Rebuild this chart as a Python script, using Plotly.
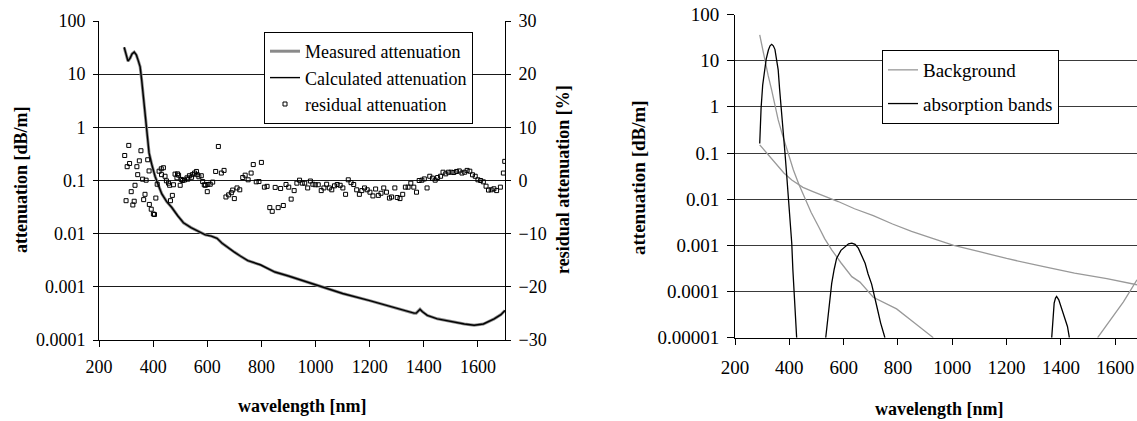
import plotly.graph_objects as go

# ---------------- Left chart data ----------------
wl_att = [293, 300, 307, 315, 322, 330, 338, 345, 352, 358, 364, 369, 374, 379, 385, 395, 407, 420,
          432, 450, 469, 490, 512, 540, 565, 593, 615, 636, 655, 673, 700, 722, 750, 796, 850, 900,
          944, 1018, 1100, 1200, 1280, 1330, 1364, 1372, 1379, 1386, 1395, 1413, 1450, 1500, 1550,
          1586, 1620, 1660, 1685, 1700]
att_measured = [32, 22, 17.6, 20, 24, 26, 23, 18, 13.7, 7.5, 3.7, 1.6, 1.0, 0.5, 0.33, 0.2, 0.12, 0.08,
                0.056, 0.04, 0.031, 0.022, 0.016, 0.013, 0.0112, 0.0095, 0.009, 0.0082, 0.0066, 0.0056,
                0.0045, 0.0038, 0.0031, 0.0026, 0.0019, 0.0016, 0.00135, 0.001, 0.00075, 0.00055,
                0.00042, 0.00036, 0.00032, 0.00032, 0.00035, 0.00038, 0.00034, 0.00029, 0.00025,
                0.00022, 0.0002, 0.00019, 0.0002, 0.00025, 0.0003, 0.00036]
att_calculated = [32, 22, 17.6, 20, 24, 26, 23, 18, 13.7, 7.5, 3.7, 1.6, 1.0, 0.5, 0.33, 0.2, 0.12, 0.08,
                  0.056, 0.04, 0.031, 0.022, 0.016, 0.013, 0.0112, 0.0095, 0.009, 0.0082, 0.0066, 0.0056,
                  0.0045, 0.0038, 0.0031, 0.0026, 0.0019, 0.0016, 0.00135, 0.001, 0.00075, 0.00055,
                  0.00042, 0.00036, 0.00032, 0.00032, 0.00035, 0.00038, 0.00034, 0.00029, 0.00025,
                  0.00022, 0.0002, 0.00019, 0.0002, 0.00025, 0.0003, 0.00036]

wl_res = [295, 300, 304, 310, 313, 319, 325, 330, 333, 340, 343, 349, 355, 361, 365, 370, 374, 380, 385,
          386, 393, 401, 405, 410, 415, 422, 430, 431, 438, 444, 449, 457, 461, 464, 471, 475, 481, 488,
          490, 494, 500, 504, 509, 516, 525, 528, 534, 542, 545, 553, 560, 563, 569, 578, 583, 589, 593,
          600, 602, 611, 620, 631, 641, 652, 662, 669, 679, 689, 694, 700, 710, 720, 731, 740, 751, 762,
          770, 781, 791, 800, 811, 821, 831, 840, 851, 862, 871, 881, 891, 901, 910, 921, 931, 941, 951,
          960, 971, 981, 990, 999, 1010, 1021, 1031, 1041, 1051, 1060, 1070, 1080, 1091, 1101, 1111,
          1121, 1131, 1141, 1152, 1162, 1171, 1181, 1191, 1201, 1212, 1222, 1232, 1242, 1252, 1262,
          1273, 1281, 1293, 1302, 1312, 1322, 1332, 1342, 1352, 1363, 1373, 1383, 1393, 1402, 1412,
          1422, 1432, 1442, 1451, 1462, 1471, 1481, 1491, 1501, 1511, 1521, 1531, 1541, 1551, 1560,
          1570, 1580, 1590, 1600, 1610, 1620, 1630, 1639, 1649, 1659, 1669, 1683, 1694, 1699]
res_pct = [4.7, -3.8, 2.6, 6.6, 3.2, -2.1, -4.6, -3.9, -0.9, 2.6, 1.1, 3.7, 5.6, 0.25, -3.6, -2.6, 0.06,
           3.9, 1.8, -4.5, -5.4, -6.3, -6.4, -3.3, -0.7, 1.75, 2.2, 1.1, 2.4, 0.8, -0.06, -0.5, -0.9,
           -3.8, -2.8, -0.8, 1.2, 0.5, 1.25, 1.0, -0.9, 0.2, 0.0, 0.1, 0.5, 0.25, 0.9, 0.6, 1.1, 1.4,
           1.7, 1.1, 0.7, 0.9, -0.2, -0.8, -0.9, -2.1, -0.75, -0.7, -0.3, 1.7, 6.4, 1.4, 1.9, -3.1,
           -2.7, -2.3, -1.8, -3.4, -1.4, -1.75, 0.56, 1.0, 0.13, 1.4, 3.0, -0.25, -0.2, 3.4, -1.25,
           -1.1, -5.1, -5.8, -1.3, -5.1, -1.5, -4.7, -0.75, -1.25, -3.5, -1.9, -0.5, 0.06, -0.5, -0.5,
           -1.4, -0.1, -0.7, -0.8, -0.8, -1.9, -1.4, -0.7, -1.4, -1.75, -1.0, -0.75, -0.9, -1.4, -2.6,
           0.13, -0.4, -0.75, -1.75, -2.6, -1.9, -1.4, -1.75, -2.2, -2.9, -1.6, -2.8, -2.4, -1.4, -2.2,
           -3.3, -3.1, -1.4, -3.2, -3.4, -2.6, -1.25, -1.25, -0.5, -1.25, -2.2, 0.0, 0.06, 0.3, -1.4,
           0.8, 0.44, 0.06, 0.56, 0.8, 1.56, 1.25, 1.56, 1.56, 1.5, 1.7, 1.8, 1.4, 1.56, 1.9, 1.75,
           1.07, 0.8, 0.13, 0.0, -0.25, -1.07, -1.8, -1.75, -1.56, -1.9, -1.25, 1.4, 3.6]

# ---------------- Right chart data ----------------
wl_bg = [291, 300, 310, 322, 335, 347, 359, 372, 384, 400, 415, 435, 458, 480, 507, 530, 556, 590, 630,
         660, 709, 750, 795, 860, 930, None,
         291, 320, 347, 380, 409, 450, 487, 540, 580, 640, 709, 780, 850, 930, 1005, 1100, 1200, 1341,
         1450, 1569, 1680, None,
         1535, 1580, 1630, 1680]
bg_att = [36, 19, 10.4, 4.8, 2.3, 1.05, 0.52, 0.28, 0.16, 0.078, 0.043, 0.021, 0.01, 0.0052, 0.0026,
          0.0014, 0.0008, 0.00042, 0.00021, 0.00016, 0.000075, 0.000058, 0.000042, 0.000021, 0.00001, None,
          0.15, 0.095, 0.06, 0.037, 0.026, 0.018, 0.0146, 0.011, 0.0089, 0.0062, 0.0044, 0.0029, 0.002,
          0.0014, 0.001, 0.00073, 0.00052, 0.00034, 0.00025, 0.00019, 0.00014, None,
          0.00001, 0.000024, 0.00006, 0.00018]

wl_abs = [291, 293, 296, 302, 308, 315, 323, 329, 335, 341, 347, 353, 359, 364, 369, 376, 384, 390, 396,
          403, 409, 413, 417, 422, 427, None,
          534, 544, 556, 565, 574, 590, 605, 618, 630, 642, 654, 666, 679, 690, 703, 722, 736, 752, None,
          1366, 1370, 1375, 1380, 1384, 1392, 1403, 1415, 1424, 1431]
abs_att = [0.16, 0.4, 0.93, 3, 6.3, 11, 17, 21, 22.6, 21, 17.6, 11, 6.3, 2.5, 1.0, 0.35, 0.1, 0.035,
           0.0115, 0.0035, 0.0011, 0.0003, 0.000093, 0.00003, 0.00001, None,
           0.00001, 0.00004, 0.00015, 0.0003, 0.00052, 0.00078, 0.00093, 0.00108, 0.00112, 0.00105,
           0.00087, 0.00062, 0.00041, 0.00024, 0.000145, 0.000048, 0.000021, 0.00001, None,
           0.00001, 0.000029, 0.000056, 0.000072, 0.000078, 0.000066, 0.00004, 0.000024, 0.0000175,
           0.00001]

# ---------------- Tick labels ----------------
x_ticks = [200, 400, 600, 800, 1000, 1200, 1400, 1600]
left_log_vals = [0.0001, 0.001, 0.01, 0.1, 1, 10, 100]
left_log_text = ["0.0001", "0.001", "0.01", "0.1", "1", "10", "100"]
res_ticks = [-30, -20, -10, 0, 10, 20, 30]
right_log_vals = [0.00001, 0.0001, 0.001, 0.01, 0.1, 1, 10, 100]
right_log_text = ["0.00001", "0.0001", "0.001", "0.01", "0.1", "1", "10", "100"]

FONT = "Liberation Serif"
W, H = 1137, 421


def f(size):
    return dict(family=FONT, size=size, color="#000000")


fig = go.Figure()
fig.add_trace(go.Scatter(x=wl_att, y=att_measured, mode="lines", name="Measured attenuation",
                         line=dict(color="#8a8a8a", width=3), xaxis="x", yaxis="y", legend="legend"))
fig.add_trace(go.Scatter(x=wl_att, y=att_calculated, mode="lines", name="Calculated attenuation",
                         line=dict(color="#000000", width=1.4), xaxis="x", yaxis="y", legend="legend"))
fig.add_trace(go.Scatter(x=wl_res, y=res_pct, mode="markers", name="residual attenuation",
                         marker=dict(symbol="square-open", size=4, color="#000000", line=dict(width=1)),
                         xaxis="x", yaxis="y3", legend="legend"))
fig.add_trace(go.Scatter(x=wl_bg, y=bg_att, mode="lines", name="Background", connectgaps=False,
                         line=dict(color="#999999", width=1.3), xaxis="x2", yaxis="y2",
                         legend="legend2", legendgroup="bg"))
fig.add_trace(go.Scatter(x=wl_abs, y=abs_att, mode="lines", name="absorption bands", connectgaps=False,
                         line=dict(color="#000000", width=1.3), xaxis="x2", yaxis="y2",
                         legend="legend2", legendgroup="abs"))

axis_common = dict(showline=True, linecolor="#000000", linewidth=1, ticks="outside", tickcolor="#000000",
                   tickwidth=1, zeroline=False, color="#000000", automargin=False)

fig.update_layout(
    template="none",
    width=W, height=H, margin=dict(l=0, r=0, t=0, b=0, autoexpand=False),
    paper_bgcolor="white", plot_bgcolor="white",
    font=f(18),
    xaxis=dict(domain=[99 / W, 505 / W], range=[200, 1700], tickvals=x_ticks, ticklen=6,
               showgrid=False, anchor="y", ticklabelstandoff=4, tickfont=f(18), **axis_common),
    yaxis=dict(domain=[(H - 340) / H, (H - 21) / H], type="log", range=[-4, 2],
               tickvals=left_log_vals, ticktext=left_log_text, ticklen=5, anchor="x",
               showgrid=True, gridcolor="#1a1a1a", gridwidth=1, ticklabelstandoff=4,
               tickfont=f(18), **axis_common),
    yaxis3=dict(overlaying="y", side="right", anchor="x", range=[-30, 30], tickvals=res_ticks,
                showgrid=False, ticklen=5, ticklabelstandoff=4, tickfont=f(18), **axis_common),
    xaxis2=dict(domain=[735 / W, 1.0], range=[200, 1680], tickvals=x_ticks, ticklen=6,
                showgrid=False, anchor="y2", ticklabelstandoff=6, tickfont=f(19), **axis_common),
    yaxis2=dict(domain=[(H - 337.7) / H, (H - 14.5) / H], type="log", range=[-5, 2],
                tickvals=right_log_vals, ticktext=right_log_text, ticklen=7, anchor="x2",
                showgrid=True, gridcolor="#3a3a3a", gridwidth=1, ticklabelstandoff=4,
                tickfont=f(19), **axis_common),
    legend=dict(x=264 / W, y=(H - 32) / H, xanchor="left", yanchor="top", bgcolor="white",
                bordercolor="#000000", borderwidth=1, font=f(18),
                itemwidth=30, tracegroupgap=0),
    legend2=dict(x=882 / W, y=(H - 50) / H, xanchor="left", yanchor="top", bgcolor="white",
                 bordercolor="#000000", borderwidth=1, font=f(19),
                 itemwidth=30, traceorder="grouped", tracegroupgap=6),
    showlegend=True,
)

annots = [
    dict(text="<b>attenuation [dB/m]</b>", x=21 / W, y=(H - 180) / H, textangle=-90),
    dict(text="<b>residual attenuation [%]</b>", x=563 / W, y=(H - 180) / H, textangle=-90),
    dict(text="<b>wavelength [nm]</b>", x=302 / W, y=(H - 406) / H, textangle=0),
    dict(text="<b>attenuation [dB/m]</b>", x=639 / W, y=(H - 178) / H, textangle=-90, size=19),
    dict(text="<b>wavelength [nm]</b>", x=939 / W, y=(H - 409) / H, textangle=0, size=18),
]
for a in annots:
    size = a.pop("size", 18)
    fig.add_annotation(xref="paper", yref="paper", showarrow=False, xanchor="center", yanchor="middle",
                       font=f(size), **a)

fig.write_html("out.html")
